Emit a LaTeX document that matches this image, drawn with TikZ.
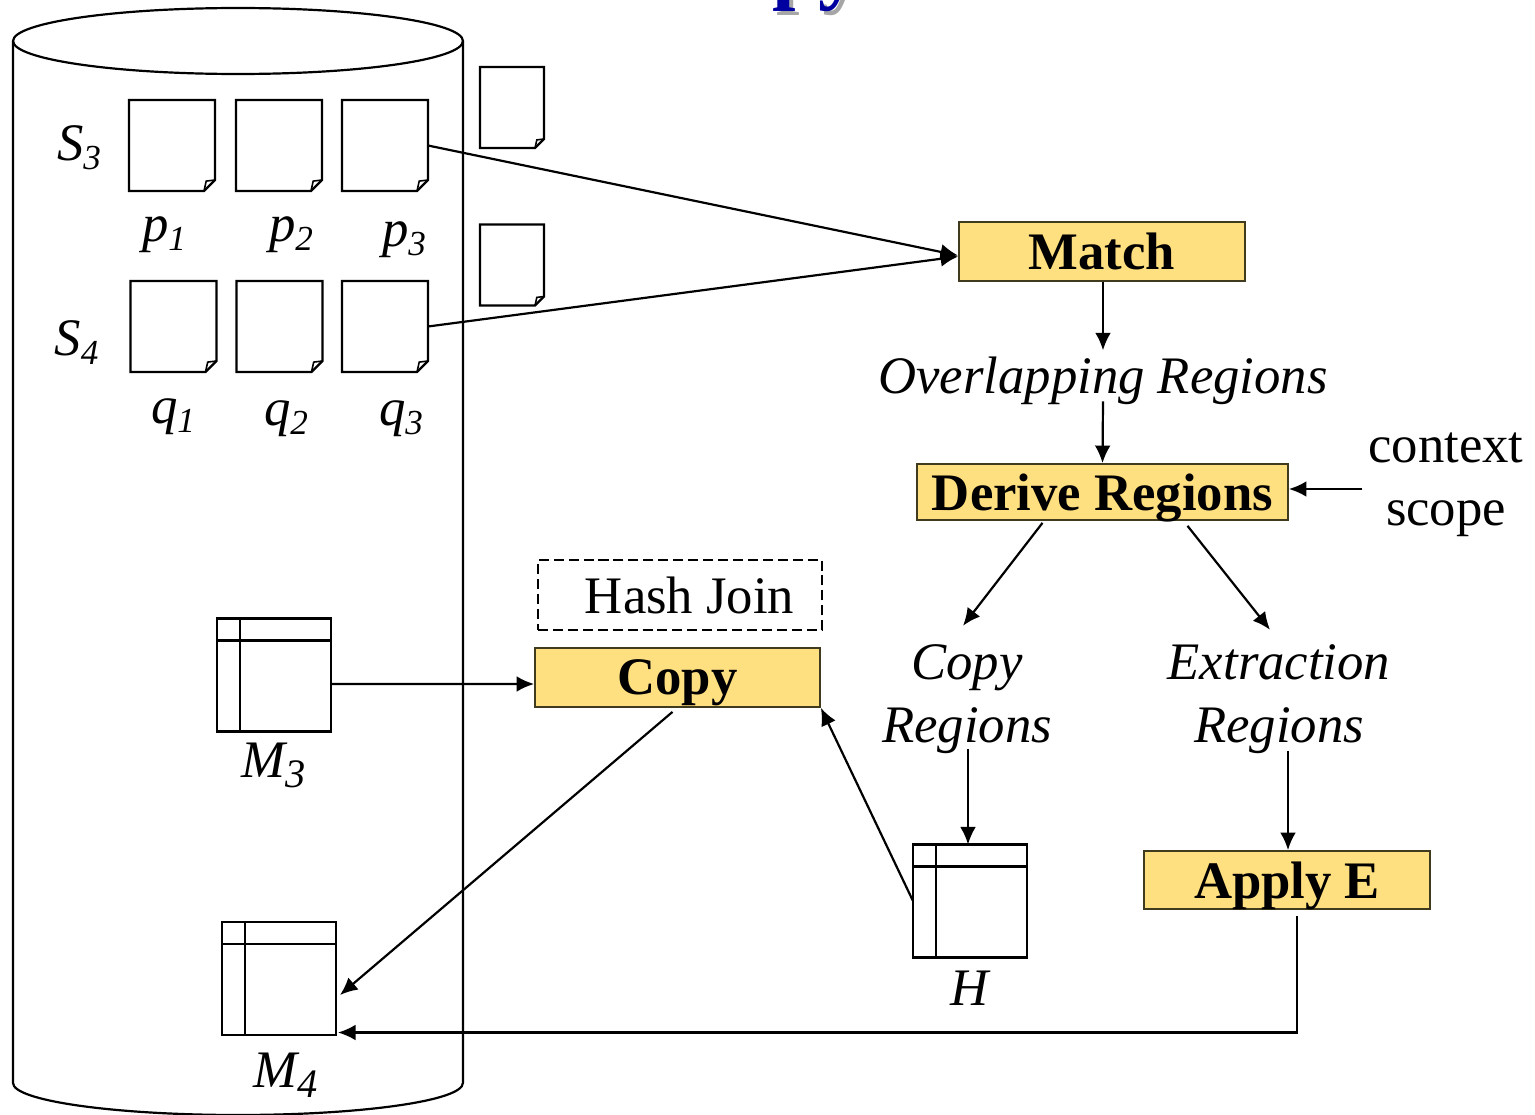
\documentclass[tikz,border=0pt]{standalone}
\usepackage{fontspec}
\setmainfont{Liberation Serif}
\usetikzlibrary{arrows.meta,calc}
\definecolor{boxfill}{HTML}{FFE080}
\definecolor{boxline}{HTML}{403A1E}
\definecolor{titleblue}{HTML}{0000A0}
\newcommand\sbs[1]{\raisebox{-5.5pt}{\fontsize{20}{20}\selectfont #1}}
\newcommand\sbm[1]{\raisebox{-6pt}{\fontsize{23}{23}\selectfont #1}}
\begin{document}
\begin{tikzpicture}[x=0.02cm,y=-0.02cm,
  line width=1.25pt,
  arr/.style={-{Latex[length=10pt,width=9pt]}, line width=1.25pt},
  opbox/.style={draw=boxline, fill=boxfill, line width=1pt, font=\fontsize{30}{36}\selectfont\bfseries, text depth=0pt, inner sep=0pt},
  lbl/.style={font=\fontsize{30}{35.7}\selectfont\itshape, inner sep=0pt, align=center},
  plain/.style={font=\fontsize{30}{35.7}\selectfont, inner sep=0pt, align=center},
  pg/.style={inner sep=0pt, outer sep=0pt, minimum width=86*0.02cm, minimum height=91*0.02cm},
  spg/.style={inner sep=0pt, outer sep=0pt, minimum width=64*0.02cm, minimum height=81*0.02cm},
  tbl/.style={draw, line width=1.25pt, inner sep=0pt, outer sep=0pt, minimum width=114*0.02cm, minimum height=113*0.02cm},
  pageline/.style={line width=1.25pt, line join=miter}
]
\useasboundingbox (0,0) rectangle (1535,1115);

% cut-off title (only its descenders show)
\node[anchor=base west, font=\fontsize{48}{48}\selectfont\bfseries, text=black!35, inner sep=0pt] (titleshadow) at (775,-2) {py};
\node[anchor=base west, font=\fontsize{48}{48}\selectfont\bfseries, text=titleblue, inner sep=0pt] (title) at (771,-6) {py};

% database cylinder
\draw (13,41) -- (13,1083) arc[start angle=180, end angle=360, x radius=4.5cm, y radius=0.64cm] -- (463,41);
\draw (238,41) ellipse[x radius=4.5cm, y radius=0.66cm];

% pages
\node[pg] (p1) at (172,145.5) {};
\node[pg] (p2) at (279,145.5) {};
\node[pg] (p3) at (385,145.5) {};
\node[pg] (q1) at (173.5,326.5) {};
\node[pg] (q2) at (279.5,326.5) {};
\node[pg] (q3) at (385,326.5) {};
\node[spg] (x1) at (512,107.5) {};
\node[spg] (x2) at (512,265) {};
\foreach \n/\c in {p1/11,p2/11,p3/11,q1/11,q2/11,q3/11,x1/9,x2/9} {
  \draw[pageline] (\n.north west) -- (\n.north east) -- ($(\n.south east)+(0,-\c)$) -- ($(\n.south east)+(-\c,0)$) -- (\n.south west) -- cycle;
  \draw[pageline, line width=0.9pt] ($(\n.south east)+(0,-\c)$) -- ($(\n.south east)+(-0.8*\c,-0.9*\c)$) -- ($(\n.south east)+(-\c,0)$);
}

% page labels
\node[lbl, anchor=base] (s3) at (79,160) {S\sbs{3}};
\node[lbl, anchor=base] (s4) at (76.5,355) {S\sbs{4}};
\node[lbl, anchor=base] (p1l) at (164,241) {p\sbs{1}};
\node[lbl, anchor=base] (p2l) at (291,241) {p\sbs{2}};
\node[lbl, anchor=base] (p3l) at (404,246) {p\sbs{3}};
\node[lbl, anchor=base] (q1l) at (173,423) {q\sbs{1}};
\node[lbl, anchor=base] (q2l) at (286,425) {q\sbs{2}};
\node[lbl, anchor=base] (q3l) at (401,425) {q\sbs{3}};

% tables
\node[tbl] (m3) at (274,675) {};
\node[tbl] (m4) at (279,978.5) {};
\node[tbl] (h) at (970,901) {};
\foreach \t in {m3,m4,h} {
  \draw ($(\t.north west)+(0,22)$) -- ($(\t.north east)+(0,22)$);
  \draw ($(\t.north west)+(23,0)$) -- ($(\t.south west)+(23,0)$);
}
\node[lbl, anchor=base] (m3l) at (274,777) {M\sbm{3}};
\node[lbl, anchor=base] (m4l) at (286,1087) {M\sbm{4}};
\node[lbl, anchor=base] (hl) at (970,1005) {H};

% operator boxes
\node[opbox, minimum width=286*0.02cm, minimum height=59*0.02cm] (match) at (1102,251.5) {Match};
\node[opbox, minimum width=371*0.02cm, minimum height=56*0.02cm] (derive) at (1102.5,492) {Derive Regions};
\node[opbox, minimum width=285*0.02cm, minimum height=59*0.02cm] (copy) at (677.5,677.5) {Copy};
\node[opbox, minimum width=286*0.02cm, minimum height=58*0.02cm] (apply) at (1287,880) {Apply E};
\node[plain, draw, line width=1pt, dash pattern=on 5.7pt off 2.8pt, text depth=0pt, minimum width=284*0.02cm, minimum height=70*0.02cm] (hash) at (680,595) {\hspace*{11pt}Hash Join};

% text labels
\node[lbl, anchor=base] (overlap) at (1103,393) {Overlapping Regions};
\node[lbl] (copyreg) at (967,699.3) {Copy\\Regions};
\node[lbl] (extr) at (1279,699.3) {Extraction\\Regions};
\node[plain] (ctx) at (1446,485) {context\\scope};

% connectors
\draw[arr] (p3.east) -- ($(match.west)+(0,4)$);
\draw[arr] (q3.east) -- ($(match.west)+(0,5)$);
\draw[arr] ($(match.south)+(1,0)$) -- ($(overlap.north)+(0,-5)$);
\draw[arr] ($(overlap.south)+(0,-4)$) -- (derive.north);
\draw[arr] ($(ctx.west)+(-5,4)$) -- ($(derive.east)+(0,-3)$);
\draw[arr] ($(derive.south)+(-60,2)$) -- ($(copyreg.north)+(-4,-18)$);
\draw[arr] ($(derive.south)+(85,5)$) -- ($(extr.north)+(-9,-14)$);
\draw[arr] ($(copyreg.south)+(1,-6)$) -- ($(h.north)+(-2,0)$);
\draw[arr] ($(extr.south)+(9,-4)$) -- ($(apply.north)+(1,0)$);
\draw[arr] ($(m3.east)+(0,9)$) -- ($(copy.west)+(0,6.5)$);
\draw[arr] (h.west) -- (copy.south east);
\draw[arr] ($(copy.south)+(-5,4)$) -- ($(m4.east)+(4,16.5)$);
\draw[arr] ($(apply.south)+(10,6)$) |- ($(m4.east)+(2,54)$);
\end{tikzpicture}
\end{document}
